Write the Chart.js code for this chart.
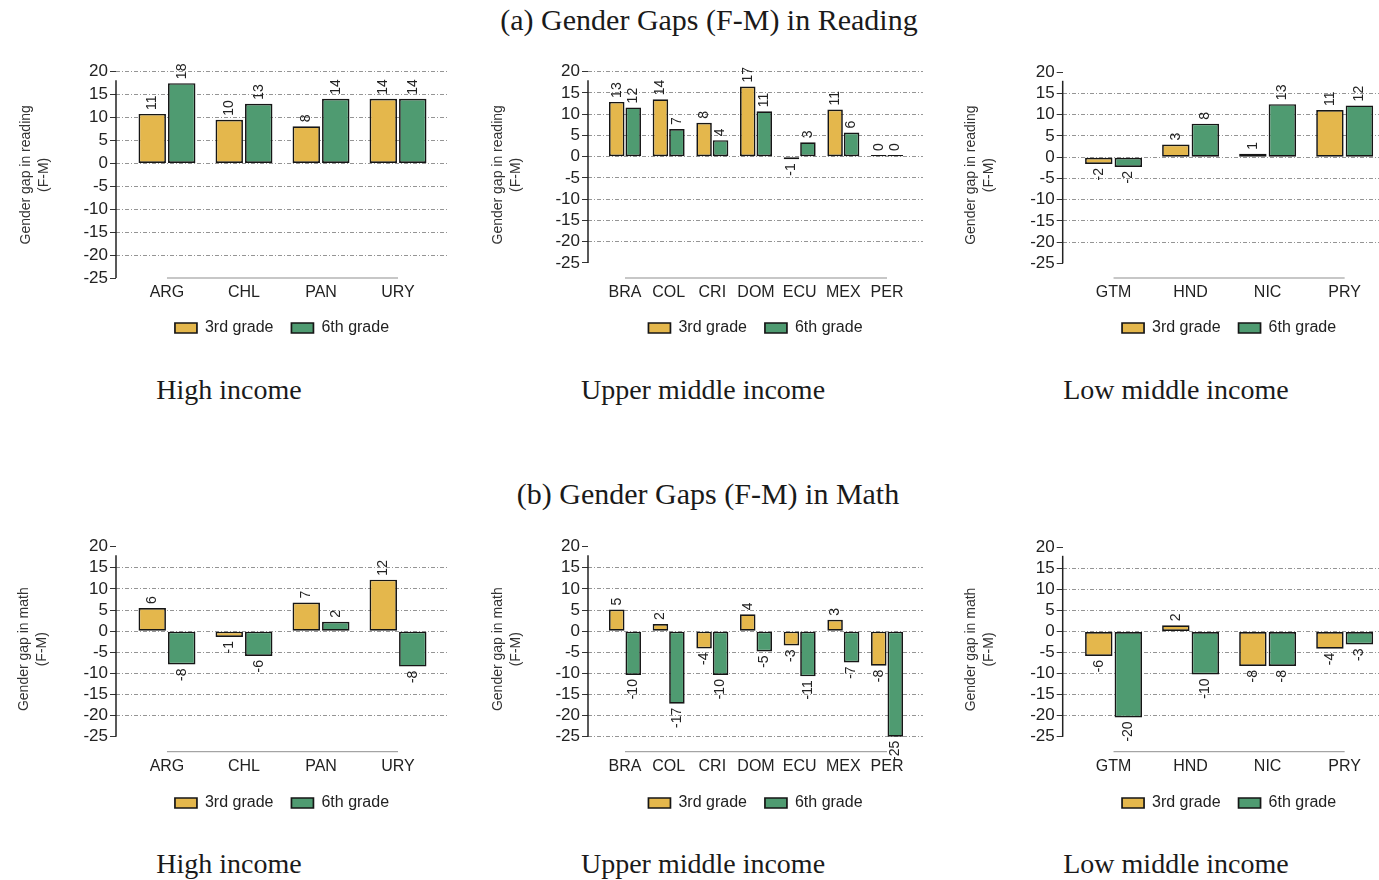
<!DOCTYPE html>
<html>
<head>
<meta charset="utf-8">
<script src="https://cdn.jsdelivr.net/npm/chart.js@4/dist/chart.umd.min.js"></script>
<style>
  html, body { margin: 0; padding: 0; background: #fff; width: 1379px; height: 880px; overflow: hidden; }
  .wrap { position: relative; width: 1379px; height: 880px; }
  canvas { position: absolute; }
  .head, .sub { position: absolute; transform: translate(-50%, -50%); white-space: nowrap;
    font-family: "Liberation Serif", "Times New Roman", serif; color: #1a1a1a; }
  .head { font-size: 30px; }
  .sub { font-size: 28px; }
</style>
</head>
<body>
<div class="wrap" id="wrap">
  <div class="head" style="left:709px; top:20px;">(a) Gender Gaps (F-M) in Reading</div>
  <div class="head" style="left:708px; top:494px;">(b) Gender Gaps (F-M) in Math</div>
  <div class="sub" style="left:229px; top:390px;">High income</div>
  <div class="sub" style="left:703px; top:390px;">Upper middle income</div>
  <div class="sub" style="left:1176px; top:390px;">Low middle income</div>
  <div class="sub" style="left:229px; top:864px;">High income</div>
  <div class="sub" style="left:703px; top:864px;">Upper middle income</div>
  <div class="sub" style="left:1176px; top:864px;">Low middle income</div>
</div>
<script>
// Country groups by income level
const highIncome = ['ARG', 'CHL', 'PAN', 'URY'];
const upperMiddleIncome = ['BRA', 'COL', 'CRI', 'DOM', 'ECU', 'MEX', 'PER'];
const lowMiddleIncome = ['GTM', 'HND', 'NIC', 'PRY'];

// Series names
const gradeLabels = ['3rd grade', '6th grade'];

// Reading gender gaps (F-M)
const readingHigh3rd = [10.8, 9.5, 8.1, 14.1];
const readingHigh6th = [17.5, 13.0, 14.1, 14.1];
const readingUpper3rd = [12.9, 13.5, 8.0, 16.5, -0.6, 11.1, 0.4];
const readingUpper6th = [11.6, 6.5, 3.9, 10.7, 3.4, 5.7, 0.4];
const readingLow3rd = [-1.6, 3.0, 0.8, 11.1];
const readingLow6th = [-2.3, 7.9, 12.5, 12.2];

// Math gender gaps (F-M)
const mathHigh3rd = [5.5, -1.4, 6.8, 12.2];
const mathHigh6th = [-7.9, -5.9, 2.2, -8.4];
const mathUpper3rd = [5.1, 1.7, -4.1, 4.0, -3.4, 2.7, -8.2];
const mathUpper6th = [-10.4, -17.2, -10.4, -4.8, -10.7, -7.4, -25.0];
const mathLow3rd = [-5.8, 1.5, -8.2, -4.1];
const mathLow6th = [-20.4, -10.2, -8.2, -3.1];

// Y-axis tick labels
const yTicks = [20, 15, 10, 5, 0, -5, -10, -15, -20, -25];

const readingTitle = ['Gender gap in reading', '(F-M)'];
const mathTitle = ['Gender gap in math', '(F-M)'];

const SANS = '"Liberation Sans", Arial, sans-serif';
const YELLOW = '#E4B74C';
const GREEN = '#4F9B71';
const EDGE = '#161616';

// Value labels, rotated, just outside the end of each bar
const valueLabels = {
  id: 'valueLabels',
  afterDatasetsDraw(chart) {
    const ctx = chart.ctx;
    ctx.save();
    ctx.font = '14px ' + SANS;
    ctx.fillStyle = '#222';
    ctx.textBaseline = 'middle';
    chart.data.datasets.forEach((ds, di) => {
      chart.getDatasetMeta(di).data.forEach((bar, i) => {
        const v = ds.data[i].y;
        const neg = v < 0;
        ctx.save();
        ctx.translate(bar.x, bar.y + (neg ? 4 : -4));
        ctx.rotate(-Math.PI / 2);
        ctx.textAlign = neg ? 'right' : 'left';
        ctx.fillText(String(Math.round(v) || 0), 0, 0);
        ctx.restore();
      });
    });
    ctx.restore();
  }
};

// Vertical axis line and the category baseline under the bars
const axisLines = {
  id: 'axisLines',
  beforeDatasetsDraw(chart) {
    const { ctx, chartArea, scales } = chart;
    const x = scales.x, y = scales.y;
    const n = chart.data.datasets[0].data.length;
    ctx.save();
    ctx.strokeStyle = '#222';
    ctx.lineWidth = 1.5;
    ctx.beginPath();
    ctx.moveTo(chartArea.left, y.getPixelForValue(yTicks[0]) + 8.5);
    ctx.lineTo(chartArea.left, y.getPixelForValue(yTicks[yTicks.length - 1]));
    ctx.stroke();
    ctx.strokeStyle = '#8f8f8f';
    ctx.lineWidth = 1;
    ctx.beginPath();
    ctx.moveTo(x.getPixelForValue(0), chartArea.bottom);
    ctx.lineTo(x.getPixelForValue(n - 1), chartArea.bottom);
    ctx.stroke();
    ctx.restore();
  }
};

function makePanel(p) {
  const cv = document.createElement('canvas');
  cv.width = p.w;
  cv.height = p.h;
  cv.style.left = p.left + 'px';
  cv.style.top = p.top + 'px';
  document.getElementById('wrap').appendChild(cv);
  const cats = p.cats;
  new Chart(cv.getContext('2d'), {
    type: 'bar',
    data: {
      datasets: [
        { label: gradeLabels[0], data: p.s1.map((v, i) => ({ x: i, y: v })),
          backgroundColor: YELLOW, borderColor: EDGE, borderWidth: 1.7, borderSkipped: false,
          categoryPercentage: p.catPct, barPercentage: p.barPct },
        { label: gradeLabels[1], data: p.s2.map((v, i) => ({ x: i, y: v })),
          backgroundColor: GREEN, borderColor: EDGE, borderWidth: 1.7, borderSkipped: false,
          categoryPercentage: p.catPct, barPercentage: p.barPct }
      ]
    },
    options: {
      responsive: false,
      animation: false,
      layout: { padding: { top: p.padTop, right: p.padRight, bottom: 0, left: 0 } },
      plugins: {
        legend: {
          position: 'bottom', fullSize: false,
          labels: { boxWidth: 22, boxHeight: 10, padding: 18, color: '#222', font: { family: SANS, size: 16 } }
        },
        tooltip: { enabled: false },
        title: { display: false }
      },
      scales: {
        x: {
          type: 'linear', min: p.xMin, max: p.xMax, offset: false,
          afterBuildTicks: s => { s.ticks = cats.map((_, i) => ({ value: i })); },
          afterFit: s => { s.height = p.xAxisH; },
          grid: { display: false, drawTicks: false },
          border: { display: false },
          ticks: { autoSkip: false, maxRotation: 0, padding: 5, color: '#222',
            font: { family: SANS, size: 16 }, callback: (v, i) => cats[i] }
        },
        y: {
          min: p.yMin, max: yTicks[0],
          afterBuildTicks: s => { s.ticks = yTicks.map(v => ({ value: v })); },
          afterFit: s => { s.width = p.axisX - p.left; },
          border: { display: false, dash: [4, 2, 1, 2] },
          grid: {
            color: c => (c.tick && p.gridAt.includes(c.tick.value)) ? '#959595' : 'rgba(0,0,0,0)',
            lineWidth: 1,
            tickLength: 6, tickColor: '#333', tickWidth: 1, tickBorderDash: []
          },
          ticks: { padding: 2, color: '#222', font: { family: SANS, size: 17 }, autoSkip: false },
          title: { display: true, text: p.title, color: '#333',
            font: { family: SANS, size: 14, lineHeight: '18px' },
            padding: { top: p.titlePad, bottom: 0 } }
        }
      }
    },
    plugins: [axisLines, valueLabels]
  });
}

const allGrid = [20, 15, 10, 5, 0, -5, -10, -15, -20];
const noTopGrid = [15, 10, 5, 0, -5, -10, -15, -20];

// Reading row
makePanel({ cats: highIncome, s1: readingHigh3rd, s2: readingHigh6th, title: readingTitle,
  left: 0, top: 40, w: 460, h: 306, padTop: 31.7, padRight: 12, axisX: 116, titlePad: 17,
  xMin: -0.662, xMax: 3.649, yMin: -25, xAxisH: 24, catPct: 0.766, barPct: 0.93, gridAt: allGrid });
makePanel({ cats: upperMiddleIncome, s1: readingUpper3rd, s2: readingUpper6th, title: readingTitle,
  left: 470, top: 40, w: 465, h: 306, padTop: 31.7, padRight: 12, axisX: 588, titlePad: 19,
  xMin: -0.847, xMax: 6.824, yMin: -28.53, xAxisH: 24, catPct: 0.755, barPct: 0.94, gridAt: allGrid });
makePanel({ cats: lowMiddleIncome, s1: readingLow3rd, s2: readingLow6th, title: readingTitle,
  left: 945, top: 40, w: 465, h: 306, padTop: 32.3, padRight: 14.5, axisX: 1062.7, titlePad: 17.5,
  xMin: -0.66, xMax: 3.66, yMin: -28.46, xAxisH: 24, catPct: 0.766, barPct: 0.93, gridAt: noTopGrid });

// Math row
makePanel({ cats: highIncome, s1: mathHigh3rd, s2: mathHigh6th, title: mathTitle,
  left: 0, top: 515, w: 460, h: 306, padTop: 31.7, padRight: 12, axisX: 116, titlePad: 15.5,
  xMin: -0.662, xMax: 3.649, yMin: -28.55, xAxisH: 25.3, catPct: 0.766, barPct: 0.93, gridAt: noTopGrid });
makePanel({ cats: upperMiddleIncome, s1: mathUpper3rd, s2: mathUpper6th, title: mathTitle,
  left: 470, top: 515, w: 465, h: 306, padTop: 31.7, padRight: 12, axisX: 588, titlePad: 19,
  xMin: -0.847, xMax: 6.824, yMin: -28.55, xAxisH: 25.3, catPct: 0.755, barPct: 0.94,
  gridAt: noTopGrid.concat([-25]) });
makePanel({ cats: lowMiddleIncome, s1: mathLow3rd, s2: mathLow6th, title: mathTitle,
  left: 945, top: 515, w: 465, h: 306, padTop: 32.3, padRight: 14.5, axisX: 1062.7, titlePad: 17.5,
  xMin: -0.66, xMax: 3.66, yMin: -28.55, xAxisH: 25.3, catPct: 0.766, barPct: 0.93, gridAt: noTopGrid });
</script>
</body>
</html>
